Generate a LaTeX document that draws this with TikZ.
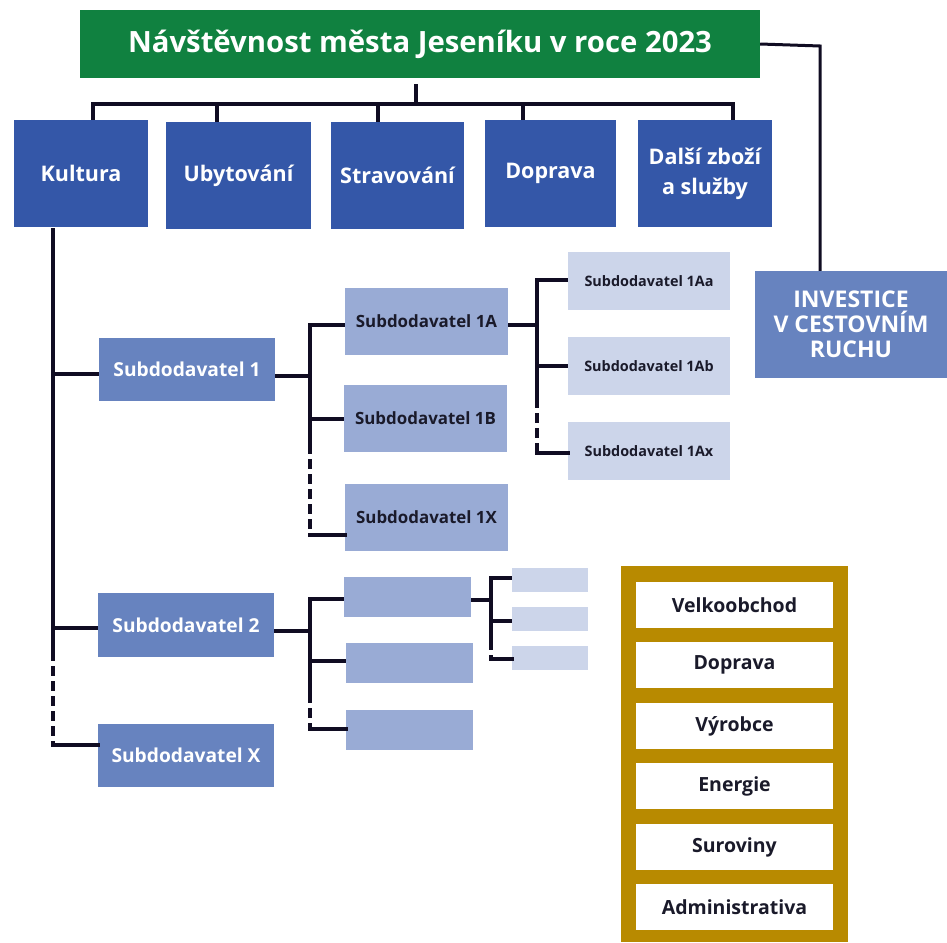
\documentclass[tikz,border=0pt]{standalone}
\usepackage{fontspec}
\setmainfont{Open Sans}
\begin{document}
\begin{tikzpicture}[x=1pt,y=-1pt,
  box/.style={inner sep=0pt, align=center, font=\bfseries},
  lvl0/.style={box, fill=titlegreen, text=white, font=\fontsize{29.3}{34}\selectfont\bfseries},
  lvl1/.style={box, fill=darkblue, text=white, font=\fontsize{21.5}{30}\selectfont\bfseries},
  lvl2/.style={box, fill=midblue, text=white, font=\fontsize{19.2}{22}\selectfont\bfseries},
  lvl3/.style={box, fill=lightblue, text=txtdark, font=\fontsize{16.9}{20}\selectfont\bfseries},
  lvl4/.style={box, fill=paleblue, text=txtdark, font=\fontsize{14.4}{17}\selectfont\bfseries},
  whitebox/.style={box, fill=white, text=txtdark, minimum width=197, minimum height=46, font=\fontsize{19.5}{22}\selectfont\bfseries},
  conn/.style={draw=linecol, line width=4pt},
  dconn/.style={conn, dash pattern=on 10pt off 5pt}
]
\definecolor{titlegreen}{HTML}{108140}
\definecolor{darkblue}{HTML}{3457A8}
\definecolor{midblue}{HTML}{6783BF}
\definecolor{lightblue}{HTML}{99ABD5}
\definecolor{paleblue}{HTML}{CCD5EA}
\definecolor{gold}{HTML}{B88A00}
\definecolor{txtdark}{HTML}{1A1A2A}
\definecolor{linecol}{HTML}{100C22}
\useasboundingbox (0,0) rectangle (947,942);

% title
\node[lvl0, minimum width=680, minimum height=68] (title) at (420,44) {Návštěvnost města Jeseníku v roce 2023};
% level 1
\node[lvl1, minimum width=134, minimum height=107] (kultura) at (81,173.5) {Kultura};
\node[lvl1, minimum width=145, minimum height=107] (ubyt) at (238.5,175.5) {Ubytování};
\node[lvl1, minimum width=133, minimum height=107] (strav) at (397.5,175.5) {Stravování};
\node[lvl1, minimum width=131, minimum height=107] (doprava) at (550.5,173.5) {Doprava};
\node[lvl1, minimum width=134, minimum height=107] (dalsi) at (705,173.5) {Další zboží\\a služby};
\node[lvl2, minimum width=192, minimum height=107, font=\fontsize{23}{25}\selectfont\bfseries] (invest) at (851,324.5) {INVESTICE\\V CESTOVNÍM\\RUCHU};
% level 2
\node[lvl2, minimum width=176, minimum height=63] (sub1) at (187,369.5) {Subdodavatel 1};
\node[lvl2, minimum width=176, minimum height=64] (sub2) at (186,625) {Subdodavatel 2};
\node[lvl2, minimum width=176, minimum height=63] (subx) at (186,755.5) {Subdodavatel X};
% level 3
\node[lvl3, minimum width=163, minimum height=67] (s1a) at (426.5,321.5) {Subdodavatel 1A};
\node[lvl3, minimum width=163, minimum height=67] (s1b) at (425.5,418.5) {Subdodavatel 1B};
\node[lvl3, minimum width=163, minimum height=67] (s1x) at (426.5,517.5) {Subdodavatel 1X};
\node[lvl3, minimum width=127, minimum height=40] (s2a) at (407.5,597) {};
\node[lvl3, minimum width=127, minimum height=40] (s2b) at (409.5,663) {};
\node[lvl3, minimum width=127, minimum height=40] (s2c) at (409.5,730) {};
% level 4
\node[lvl4, minimum width=162, minimum height=58] (s1aa) at (649,281) {Subdodavatel 1Aa};
\node[lvl4, minimum width=162, minimum height=58] (s1ab) at (649,366) {Subdodavatel 1Ab};
\node[lvl4, minimum width=162, minimum height=58] (s1ax) at (649,451) {Subdodavatel 1Ax};
\node[lvl4, minimum width=76, minimum height=24] (s2aa) at (550,580) {};
\node[lvl4, minimum width=76, minimum height=24] (s2ab) at (550,619) {};
\node[lvl4, minimum width=76, minimum height=24] (s2ax) at (550,658) {};
% gold panel
\node[box, fill=gold, minimum width=227, minimum height=376] (panel) at (734.5,754) {};
\node[whitebox] (w1) at (734.5,605) {Velkoobchod};
\node[whitebox] (w2) at (734.5,665) {Doprava};
\node[whitebox] (w3) at (734.5,726) {Výrobce};
\node[whitebox] (w4) at (734.5,786) {Energie};
\node[whitebox] (w5) at (734.5,847) {Suroviny};
\node[whitebox] (w6) at (734.5,907) {Administrativa};

% connectors: title to level 1
\coordinate (bar) at (416,104);
\coordinate (tl) at (416,84);
\draw[conn] (tl) -- (bar);
\draw[conn] ([xshift=12]kultura.north) |- (bar);
\draw[conn] ([xshift=-21.5]ubyt.north) |- (bar);
\draw[conn] ([xshift=-19.5]strav.north) |- (bar);
\draw[conn] ([xshift=-27.5]doprava.north) |- (bar);
\draw[conn] ([xshift=28]dalsi.north) |- (bar);
% title to investice
\coordinate (ti) at (820,46);
\draw[draw=linecol, line width=3pt] (title.east) -- (ti) -- (invest.north -| ti);

% Kultura trunk
\coordinate (k1) at (53,228);
\coordinate (k2) at (53,651);
\coordinate (k3) at (53,745);
\draw[conn] (k1) -- (k2);
\draw[dconn] (k2) -- (k3);
\draw[conn, line cap=rect] (k3) -- (subx.west |- k3);
\draw[conn] (sub1.west |- 0,374) -- (k1 |- 0,374);
\draw[conn] (sub2.west |- 0,628) -- (k1 |- 0,628);

% Sub1 branches
\coordinate (a1) at (310,325);
\coordinate (a2) at (310,444);
\coordinate (a3) at (310,535);
\draw[conn] (sub1.east |- 0,376) -- (a1 |- 0,376);
\draw[conn] (s1a.west |- a1) -- (a1) -- (a2);
\draw[dconn] (a2) -- (a3);
\draw[conn, line cap=rect] (a3) -- (s1x.west |- a3);
\draw[conn] (s1b.west |- 0,419) -- (a1 |- 0,419);

% 1A branches
\coordinate (b1) at (537,280);
\coordinate (b2) at (537,398);
\coordinate (b3) at (537,453);
\draw[conn] (s1a.east |- 0,325) -- (b1 |- 0,325);
\draw[conn] (s1aa.west |- b1) -- (b1) -- (b2);
\draw[dconn] (b2) -- (b3);
\draw[conn, line cap=rect] (b3) -- (s1ax.west |- b3);
\draw[conn] (s1ab.west |- 0,366) -- (b1 |- 0,366);

% Sub2 branches
\coordinate (c1) at (310,599);
\coordinate (c2) at (310,693);
\coordinate (c3) at (310,729);
\draw[conn] (sub2.east |- 0,631) -- (c1 |- 0,631);
\draw[conn] (s2a.west |- c1) -- (c1) -- (c2);
\draw[dconn] (c2) -- (c3);
\draw[conn, line cap=rect] (c3) -- (s2c.west |- c3);
\draw[conn] (s2b.west |- 0,661) -- (c1 |- 0,661);

% 2A branches
\coordinate (d1) at (491,578);
\coordinate (d2) at (491,640);
\coordinate (d3) at (491,659);
\draw[conn] (s2a.east |- 0,600) -- (d1 |- 0,600);
\draw[conn] (s2aa.west |- d1) -- (d1) -- (d2);
\draw[dconn] (d2) -- (d3);
\draw[conn, line cap=rect] (d3) -- (s2ax.west |- d3);
\draw[conn] (s2ab.west |- 0,621) -- (d1 |- 0,621);
\end{tikzpicture}
\end{document}
